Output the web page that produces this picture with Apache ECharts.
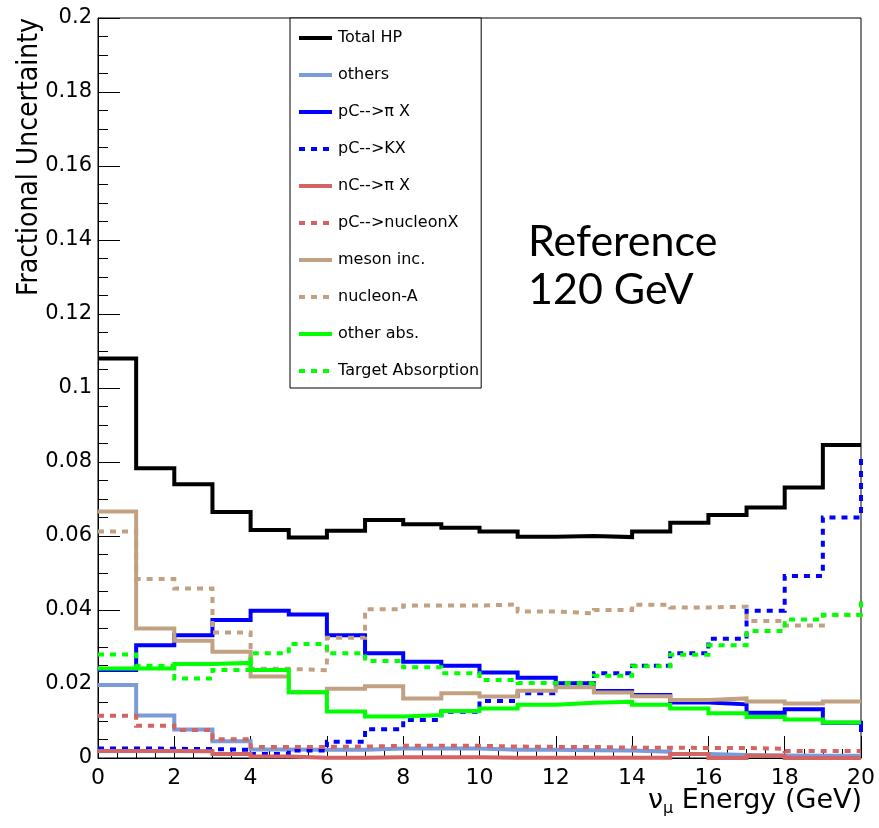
<!DOCTYPE html>
<html>
<head>
<meta charset="utf-8">
<script src="https://cdn.jsdelivr.net/npm/echarts@6/dist/echarts.min.js"></script>
<style>
html,body{margin:0;padding:0;background:#fff;}
#c{width:879px;height:828px;}
</style>
</head>
<body>
<div id="c"></div>
<script>
// ---- data ----
const binEdges = [0,1,2,3,4,5,6,7,8,9,10,11,12,13,14,15,16,17,18,19,20];
const overflowEdge = 21;
const xTicks = [0,2,4,6,8,10,12,14,16,18,20];
const yTicks = [0,0.02,0.04,0.06,0.08,0.1,0.12,0.14,0.16,0.18,0.2];

const seriesNames = ['Total HP','others','pC-->\u03c0 X','pC-->KX','nC-->\u03c0 X','pC-->nucleonX','meson inc.','nucleon-A','other abs.','Target Absorption'];

const totalHP    = [0.1080,0.0783,0.0740,0.0665,0.0616,0.0596,0.0614,0.0643,0.0632,0.0622,0.0612,0.0598,0.0600,0.0597,0.0612,0.0636,0.0657,0.0677,0.0731,0.0846];
const others     = [0.0197,0.0115,0.0077,0.0045,0.0023,0.0022,0.0022,0.0026,0.0026,0.0026,0.0022,0.0022,0.0021,0.0020,0.0017,0.0011,0.0008,0.0007,0.0006,0.0006];
const pCpiX      = [0.0238,0.0305,0.0332,0.0373,0.0398,0.0388,0.0332,0.0283,0.0260,0.0249,0.0231,0.0217,0.0202,0.0181,0.0170,0.0150,0.0145,0.0122,0.0132,0.0095];
const pCKX       = [0.0026,0.0025,0.0024,0.0022,0.0011,0.0020,0.0044,0.0078,0.0103,0.0125,0.0154,0.0175,0.0202,0.0229,0.0249,0.0283,0.0322,0.0398,0.0492,0.0650];
const nCpiX      = [0.0019,0.0019,0.0018,0.0011,0.0004,0.0001,0.0001,0.0002,0.0002,0.0002,0.0001,0.0001,0.0001,0.0001,0.0001,0.0011,0.0000,0.0006,0.0000,0.0000];
const pCnucleonX = [0.0114,0.0087,0.0076,0.0051,0.0030,0.0030,0.0031,0.0033,0.0033,0.0033,0.0031,0.0030,0.0030,0.0028,0.0028,0.0027,0.0027,0.0025,0.0019,0.0019];
const mesonInc   = [0.0666,0.0350,0.0317,0.0287,0.0220,0.0178,0.0187,0.0194,0.0161,0.0175,0.0166,0.0182,0.0191,0.0177,0.0167,0.0157,0.0161,0.0153,0.0147,0.0153];
const nucleonA   = [0.0612,0.0484,0.0458,0.0339,0.0241,0.0237,0.0325,0.0402,0.0412,0.0412,0.0415,0.0396,0.0391,0.0400,0.0414,0.0407,0.0409,0.0370,0.0358,0.0386];
const otherAbs   = [0.0242,0.0242,0.0254,0.0257,0.0238,0.0178,0.0126,0.0112,0.0116,0.0127,0.0134,0.0144,0.0149,0.0152,0.0144,0.0134,0.0121,0.0111,0.0104,0.0096];
const targetAbs  = [0.0280,0.0249,0.0215,0.0238,0.0283,0.0308,0.0283,0.0262,0.0245,0.0229,0.0211,0.0203,0.0202,0.0222,0.0248,0.0279,0.0305,0.0343,0.0374,0.0387];
// overflow-bin contents (visible only as the edge drawn at x = 20)
const pCpiXOverflow = 0.0076;
const pCKXOverflow = 0.0814;
const targetAbsOverflow = 0.0423;

const xTitle = '{nu|\u03bd}{sub|\u03bc}{t| Energy (GeV)}';
const yTitle = 'Fractional Uncertainty';
const annotationLines = ['Reference', '120 GeV'];

// ---- build step histograms ----
function hist(vals, overflow) {
  const d = vals.map((v, i) => [binEdges[i], v]);
  d.push([binEdges[binEdges.length - 1], vals[vals.length - 1]]);
  if (overflow != null) {
    d.push([binEdges[binEdges.length - 1], overflow]);
    d.push([overflowEdge, overflow]);
  }
  return d;
}

const BLACK = '#000000', LBLUE = '#7b9bd8', BLUE = '#0000ff', RED = '#d26464', TAN = '#c2a182', GREEN = '#00ff00';
const DASH = [6, 6];
const styles = [
  {c: BLACK, t: 'solid'}, {c: LBLUE, t: 'solid'}, {c: BLUE, t: 'solid'}, {c: BLUE, t: DASH},
  {c: RED, t: 'solid'}, {c: RED, t: DASH}, {c: TAN, t: 'solid'}, {c: TAN, t: DASH},
  {c: GREEN, t: 'solid'}, {c: GREEN, t: DASH}
];
const datasets = [
  hist(totalHP), hist(others), hist(pCpiX, pCpiXOverflow), hist(pCKX, pCKXOverflow),
  hist(nCpiX), hist(pCnucleonX), hist(mesonInc), hist(nucleonA),
  hist(otherAbs), hist(targetAbs, targetAbsOverflow)
];

const series = seriesNames.map((name, i) => ({
  name: name,
  type: 'line',
  step: 'end',
  data: datasets[i],
  symbol: 'none',
  clip: true,
  lineStyle: {color: styles[i].c, type: styles[i].t, width: 4, cap: 'butt', join: 'miter'},
  itemStyle: {color: styles[i].c},
  emphasis: {disabled: true},
  z: 2 + i
}));

const chart = echarts.init(document.getElementById('c'), null, {renderer: 'canvas'});
const TICKFONT = 'DejaVu Sans';
chart.setOption({
  animation: false,
  backgroundColor: '#ffffff',
  grid: {left: 98, top: 18, right: 18, bottom: 70, containLabel: false, outerBoundsMode: 'none',
    show: true, borderColor: '#000', borderWidth: 1, backgroundColor: 'transparent'},
  xAxis: {
    type: 'value', min: xTicks[0], max: xTicks[xTicks.length - 1], interval: xTicks[1] - xTicks[0],
    axisLine: {show: true, lineStyle: {color: '#000', width: 1}},
    axisTick: {show: true, inside: true, length: 22, lineStyle: {color: '#000', width: 1}},
    minorTick: {show: true, splitNumber: 4, length: 9, lineStyle: {color: '#000', width: 1}},
    splitLine: {show: false},
    axisLabel: {color: '#000', fontFamily: TICKFONT, fontSize: 22, margin: 9}
  },
  yAxis: {
    type: 'value', min: yTicks[0], max: yTicks[yTicks.length - 1], interval: yTicks[1] - yTicks[0],
    axisLine: {show: true, lineStyle: {color: '#000', width: 1}},
    axisTick: {show: true, inside: true, length: 22, lineStyle: {color: '#000', width: 1}},
    minorTick: {show: true, splitNumber: 4, length: 10, lineStyle: {color: '#000', width: 1}},
    splitLine: {show: false},
    axisLabel: {color: '#000', fontFamily: TICKFONT, fontSize: 21, margin: 6,
      formatter: v => String(+v.toFixed(4))}
  },
  legend: {
    show: true, orient: 'vertical', left: 290, top: 18,
    data: seriesNames,
    selectedMode: false,
    itemWidth: 33, itemHeight: 14, itemGap: 21,
    padding: [12, 2, 9, 7],
    backgroundColor: '#ffffff', borderColor: '#000', borderWidth: 1,
    itemStyle: {opacity: 0},
    lineStyle: {width: 4},
    textStyle: {fontFamily: TICKFONT, fontSize: 16, color: '#000', padding: [0, 0, 0, 1]},
    z: 20
  },
  graphic: [
    {type: 'text', left: 528, top: 218, z: 30,
      style: {text: annotationLines.join('\n'), font: '43px Lato', fill: '#000', lineHeight: 48}},
    {type: 'text', x: 30, y: 157, rotation: Math.PI / 2, z: 30,
      style: {text: yTitle, fill: '#000', fontFamily: "'DejaVu Sans Condensed', 'Liberation Sans'", fontSize: 28,
        align: 'center', verticalAlign: 'middle'}},
    {type: 'text', x: 862, y: 801, z: 30,
      style: {text: xTitle, fill: '#000', align: 'right', verticalAlign: 'middle',
        rich: {
          nu: {fontFamily: TICKFONT, fontSize: 27, fill: '#000', lineHeight: 32, verticalAlign: 'middle'},
          sub: {fontFamily: TICKFONT, fontSize: 16, fill: '#000', lineHeight: 16, verticalAlign: 'bottom'},
          t: {fontFamily: TICKFONT, fontSize: 27, fill: '#000', lineHeight: 32, verticalAlign: 'middle'}
        }}}
  ],
  series: series
});
</script>
</body>
</html>
